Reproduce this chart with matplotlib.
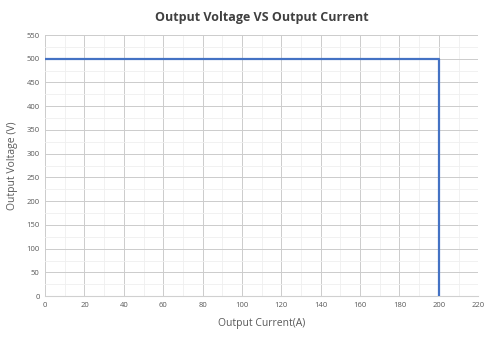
import matplotlib
matplotlib.use("Agg")
import matplotlib.pyplot as plt
from matplotlib.ticker import MultipleLocator

current = [0, 200, 200]
voltage = [500, 500, 0]

plt.rcParams["font.family"] = ["Open Sans", "DejaVu Sans"]

fig = plt.figure(figsize=(4.9, 3.4), dpi=100)
ax = fig.add_axes([0.092, 0.129, 0.884, 0.768])

ax.plot(current, voltage, color="#4472c4", lw=1.6, zorder=3)

ax.set_xlim(0, 220)
ax.set_ylim(0, 550)
ax.xaxis.set_major_locator(MultipleLocator(20))
ax.xaxis.set_minor_locator(MultipleLocator(10))
ax.yaxis.set_major_locator(MultipleLocator(50))
ax.yaxis.set_minor_locator(MultipleLocator(25))
ax.grid(which="major", color="#cccccc", lw=0.7)
ax.grid(which="minor", color="#efefef", lw=0.6)
ax.set_axisbelow(True)

for s in ax.spines.values():
    s.set_visible(False)
ax.spines["bottom"].set_visible(True)
ax.spines["bottom"].set_color("#d0d0d0")
ax.tick_params(which="both", length=0, labelsize=5.5, labelcolor="#595959", pad=4)

ax.set_title("Output Voltage VS Output Current", fontsize=9, fontweight="bold",
             color="#404040", pad=10)
ax.set_xlabel("Output Current(A)", fontsize=7.5, color="#595959", labelpad=7)
ax.set_ylabel("Output Voltage (V)", fontsize=7.5, color="#595959", labelpad=6)

fig.savefig("out.png", dpi=100, facecolor="white")
